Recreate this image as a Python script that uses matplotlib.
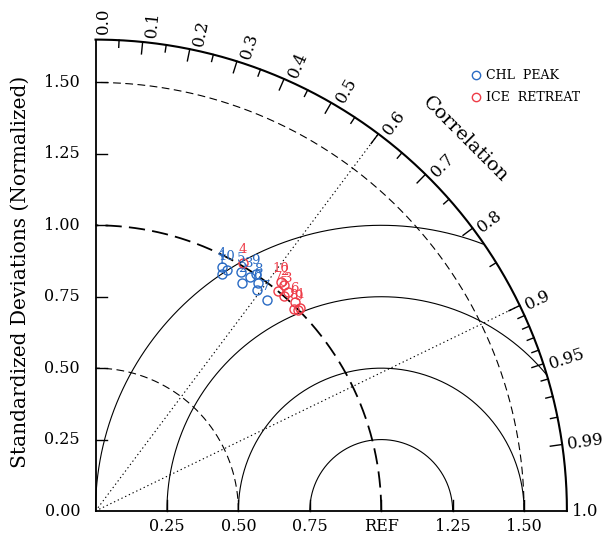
import numpy as np
import matplotlib.pyplot as plt

# normalized std and correlation
chl_std = [0.94, 0.95, 0.98, 0.96, 0.98, 0.96, 0.95, 0.98, 1.00, 0.96]
chl_cor = [0.47, 0.54, 0.55, 0.46, 0.52, 0.59, 0.63, 0.58, 0.56, 0.48]
ice_std = [1.01, 1.03, 1.02, 1.01, 1.00, 1.01, 1.00, 0.99, 1.00, 1.03]
ice_cor = [0.71, 0.64, 0.66, 0.51, 0.66, 0.69, 0.64, 0.70, 0.71, 0.63]
labels = ["1", "2", "3", "4", "5", "6", "7", "8", "9", "10"]

cor_major = [0.1, 0.2, 0.3, 0.4, 0.5, 0.6, 0.7, 0.8, 0.9, 0.95, 0.99]
cor_minor = [0.05, 0.15, 0.25, 0.35, 0.45, 0.55, 0.65, 0.75, 0.85,
             0.91, 0.92, 0.93, 0.94, 0.96, 0.97, 0.98]
cor_text = ["0.0", "0.1", "0.2", "0.3", "0.4", "0.5", "0.6", "0.7", "0.8",
            "0.9", "0.95", "0.99", "1.0"]
std_ticks = [0.25, 0.5, 0.75, 1.0, 1.25, 1.5]
x_text = ["0.25", "0.50", "0.75", "REF", "1.25", "1.50"]
y_text = ["0.00", "0.25", "0.50", "0.75", "1.00", "1.25", "1.50"]

blue = "#2a6bc4"
red = "#ee3b47"
RMAX = 1.65
font = "DejaVu Serif"
plt.rcParams["font.family"] = font

fig = plt.figure(figsize=(6.12, 5.41), dpi=100)
ax = fig.add_axes([0, 0, 1, 1])
ax.set_xlim(-0.3343, 1.8078)
ax.set_ylim(-0.105, 1.7886)
ax.axis("off")

# axes and outer arc
ax.plot([0, 0], [0, RMAX], color="k", lw=1.3)
ax.plot([0, RMAX], [0, 0], color="k", lw=1.3)
t = np.linspace(0, np.pi / 2, 400)
ax.plot(RMAX * np.cos(t), RMAX * np.sin(t), color="k", lw=1.5)

# std arcs
for r in [0.5, 1.5]:
    ax.plot(r * np.cos(t), r * np.sin(t), color="k", lw=0.8, dashes=(7, 4))
ax.plot(np.cos(t), np.sin(t), color="k", lw=1.3, dashes=(9, 4))

# RMS arcs around REF
p = np.linspace(0, np.pi, 600)
for rr in [0.25, 0.5, 0.75, 1.0]:
    xs = 1 + rr * np.cos(p)
    ys = rr * np.sin(p)
    m = (xs**2 + ys**2 <= RMAX**2 + 1e-9) & (xs >= -1e-9)
    ax.plot(xs[m], ys[m], color="k", lw=0.8)

# dotted correlation lines
for c in [0.6, 0.9]:
    th = np.arccos(c)
    ax.plot([0, RMAX * np.cos(th)], [0, RMAX * np.sin(th)], color="k",
            lw=0.8, dashes=(1.2, 2.5))

# ticks on outer arc
for c in cor_major:
    th = np.arccos(c)
    ax.plot([(RMAX - 0.042) * np.cos(th), RMAX * np.cos(th)],
            [(RMAX - 0.042) * np.sin(th), RMAX * np.sin(th)], color="k", lw=1.0)
for c in cor_minor:
    th = np.arccos(c)
    ax.plot([(RMAX - 0.025) * np.cos(th), RMAX * np.cos(th)],
            [(RMAX - 0.025) * np.sin(th), RMAX * np.sin(th)], color="k", lw=1.0)

# ticks on straight axes
for s in std_ticks:
    ax.plot([0, 0.04], [s, s], color="k", lw=1.0)
    ax.plot([s, s], [0, 0.04], color="k", lw=1.0)

# correlation labels
cor_vals = [float(s) for s in cor_text]
for c, s in zip(cor_vals, cor_text):
    th = np.arccos(c)
    off = 0.028 * np.sin(th)
    xl = 1.668 * np.cos(th) + off * np.sin(th)
    yl = 1.668 * np.sin(th) - off * np.cos(th)
    ax.text(xl, yl, s, rotation=np.degrees(th), rotation_mode="anchor",
            ha="left", va="center", fontsize=12)

ax.text(1.293, 1.299, "Correlation", rotation=-45, ha="center", va="center",
        fontsize=14)

# std tick labels
for s, lab in zip(std_ticks, x_text):
    ax.text(s, -0.054, lab, ha="center", va="center", fontsize=11.5)
for i, lab in enumerate(y_text):
    ax.text(-0.054, i * 0.25, lab, ha="right", va="center", fontsize=11.5)

ax.text(-0.2625, 0.8365, "Standardized Deviations (Normalized)", rotation=90,
        ha="center", va="center", fontsize=14.5)

# model points
for std, cor, col in [(chl_std, chl_cor, blue), (ice_std, ice_cor, red)]:
    std = np.array(std)
    cor = np.array(cor)
    xs = std * cor
    ys = std * np.sqrt(1 - cor**2)
    ax.plot(xs, ys, "o", mfc="none", mec=col, ms=6.5, mew=1.0, ls="none")
    for x, y, lab in zip(xs, ys, labels):
        ax.text(x, y + 0.025, lab, color=col, ha="center", va="bottom",
                fontsize=9.5)

# legend
ax.plot([1.332], [1.526], "o", mfc="none", mec=blue, ms=6, mew=1.0)
ax.text(1.367, 1.526, "CHL  PEAK", ha="left", va="center", fontsize=9)
ax.plot([1.332], [1.449], "o", mfc="none", mec=red, ms=6, mew=1.0)
ax.text(1.367, 1.449, "ICE  RETREAT", ha="left", va="center", fontsize=9)

plt.savefig("out.png", dpi=100)
